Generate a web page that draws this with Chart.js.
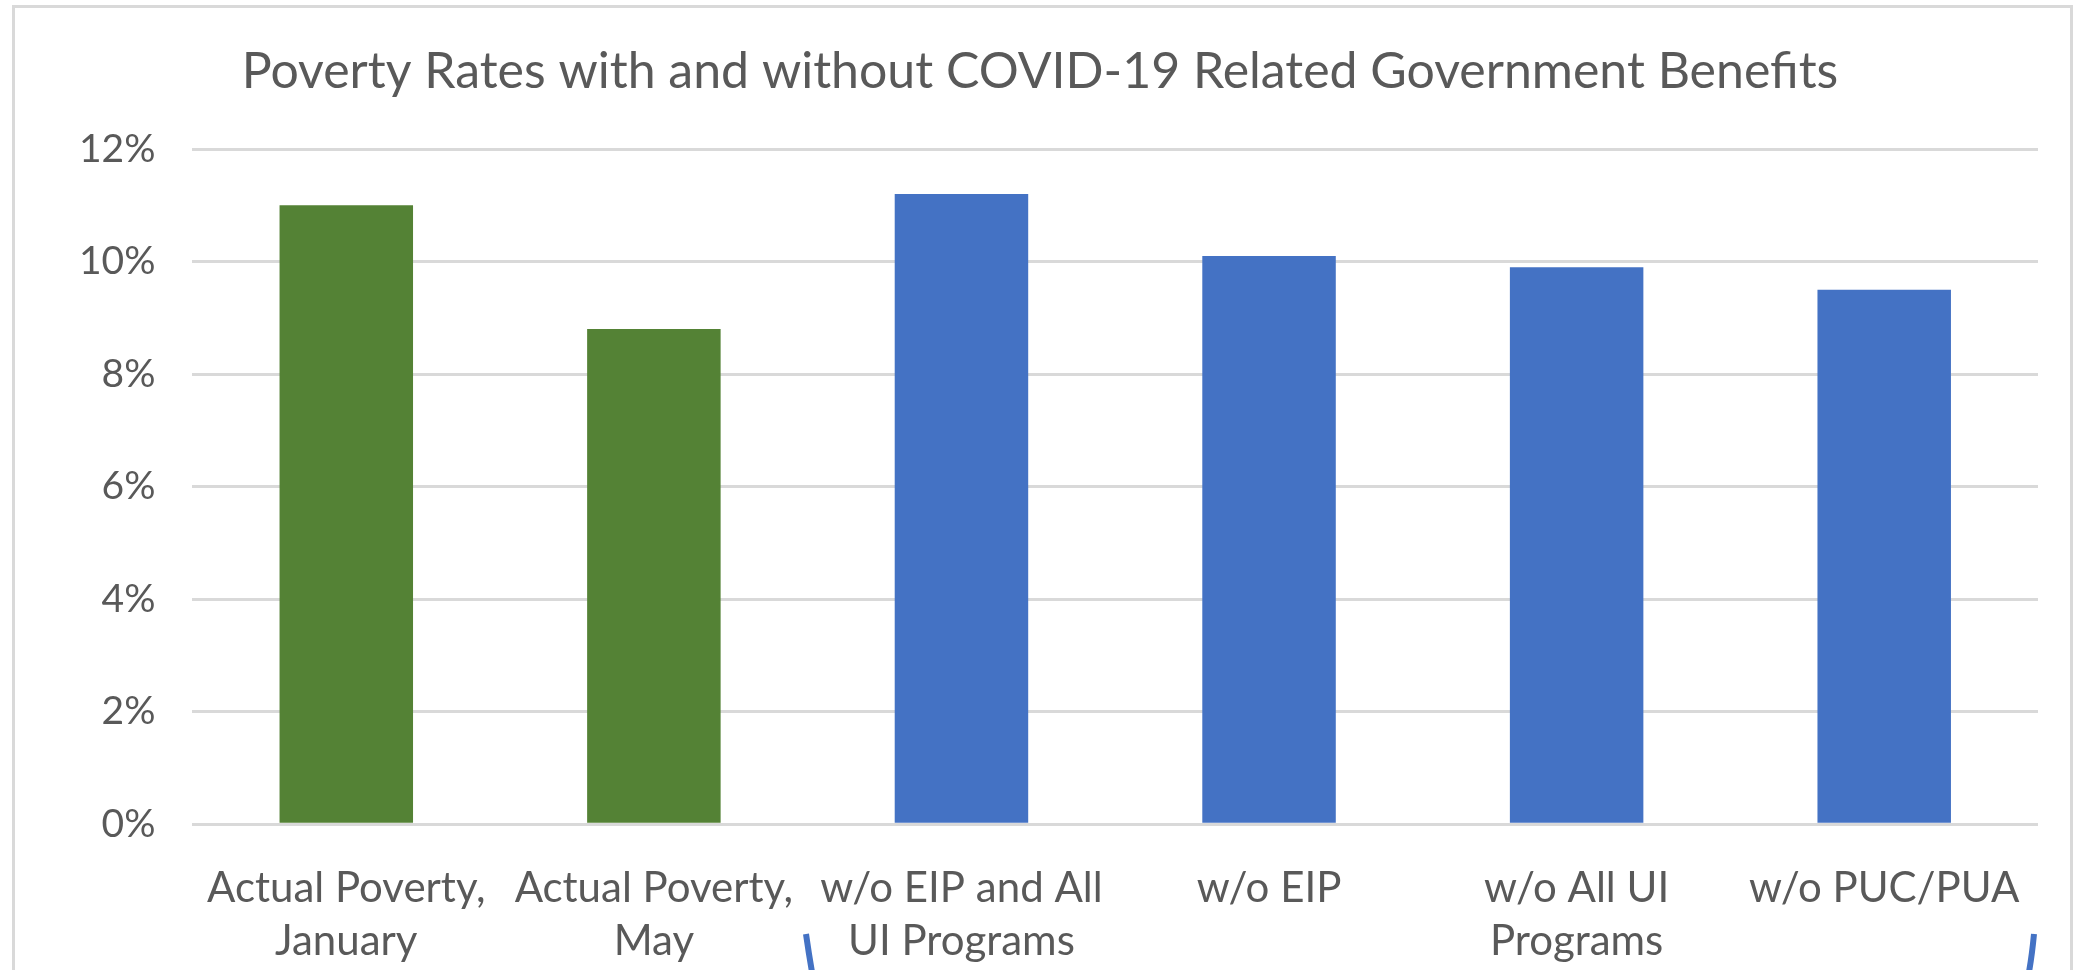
<!DOCTYPE html>
<html>
<head>
<meta charset="utf-8">
<script src="https://cdn.jsdelivr.net/npm/chart.js@4"></script>
<style>
  html, body { margin: 0; padding: 0; background: #ffffff; overflow: hidden; width: 2075px; height: 970px; }
  #wrap { position: absolute; left: 0; top: 0; width: 2075px; height: 970px; overflow: hidden; }
  #frame { position: absolute; left: 12px; top: 5px; width: 2061px; height: 1000px; border: 3px solid #d9d9d9; box-sizing: border-box; pointer-events: none; }
  canvas { position: absolute; left: 0; top: 0; }
  #deco { position: absolute; left: 0; top: 0; pointer-events: none; }
</style>
</head>
<body>
<div id="wrap">
  <div id="frame"></div>
  <canvas id="c" width="2075" height="1006"></canvas>
  <svg id="deco" width="2075" height="970">
    <path d="M 806 934 Q 809 955 812 972" stroke="#4472C4" stroke-width="6" fill="none"/>
    <path d="M 2034 934 Q 2032 955 2029 972" stroke="#4472C4" stroke-width="6" fill="none"/>
  </svg>
</div>
<script>
const categories = [
  ["Actual Poverty,", "January"],
  ["Actual Poverty,", "May"],
  ["w/o EIP and All", "UI Programs"],
  ["w/o EIP"],
  ["w/o All UI", "Programs"],
  ["w/o PUC/PUA"]
];
const povertyRates = [11.0, 8.8, 11.2, 10.1, 9.9, 9.5];
const barColors = ["#548235", "#548235", "#4472C4", "#4472C4", "#4472C4", "#4472C4"];
const yTicks = [0, 2, 4, 6, 8, 10, 12];
const chartTitle = "Poverty Rates with and without COVID-19 Related Government Benefits";

const ctx = document.getElementById('c');
new Chart(ctx, {
  type: 'bar',
  data: {
    labels: categories,
    datasets: [{
      data: povertyRates,
      backgroundColor: barColors,
      borderWidth: 0,
      categoryPercentage: 1.0,
      barPercentage: 0.434
    }]
  },
  options: {
    responsive: false,
    animation: false,
    layout: { padding: { left: 42, right: 37, top: 0, bottom: 0 } },
    plugins: {
      legend: { display: false },
      tooltip: { enabled: false },
      title: {
        display: true,
        text: chartTitle,
        color: '#595959',
        font: { family: 'Lato', size: 50, weight: '400', lineHeight: 1.2 },
        padding: { top: 42, bottom: 47 }
      }
    },
    scales: {
      x: {
        grid: { display: false, drawTicks: false },
        border: { display: false },
        ticks: {
          color: '#595959',
          font: { family: 'Lato', size: 42, lineHeight: 1.26 },
          padding: 38,
          maxRotation: 0,
          autoSkip: false
        }
      },
      y: {
        min: 0,
        max: 12,
        afterBuildTicks: (axis) => { axis.ticks = yTicks.map(v => ({ value: v })); },
        grid: { color: '#d9d9d9', lineWidth: 3, drawTicks: false },
        border: { display: false },
        ticks: {
          color: '#595959',
          font: { family: 'Lato', size: 39 },
          padding: 37,
          callback: (v) => v + '%'
        }
      }
    }
  }
});
</script>
</body>
</html>
